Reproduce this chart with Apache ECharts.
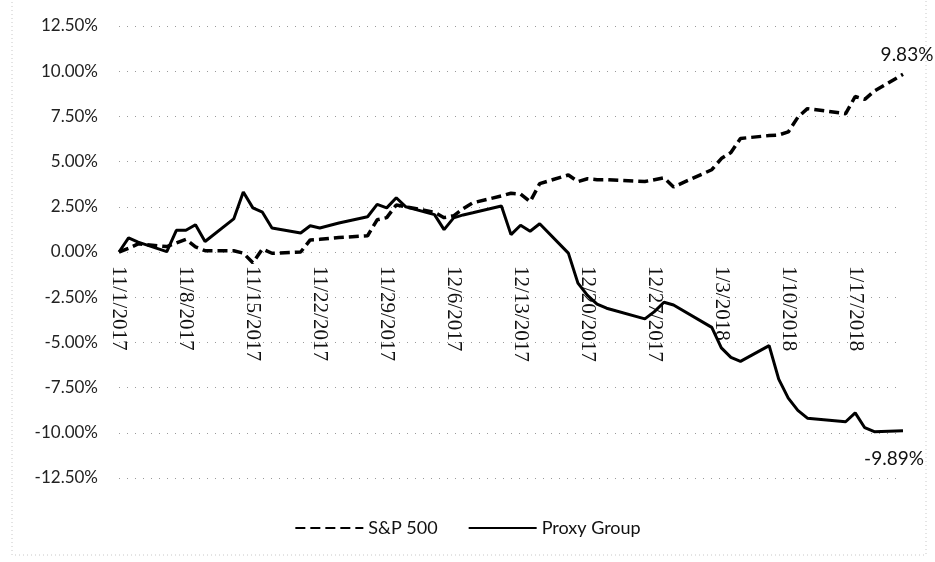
<!DOCTYPE html>
<html><head><meta charset="utf-8">
<script src="https://cdn.jsdelivr.net/npm/echarts@6/dist/echarts.min.js"></script>
<style>html,body{margin:0;padding:0;background:#fff}#c{width:935px;height:562px}</style>
</head><body><div id="c"></div>
<script>
// Trading dates
const dates = [
  '11/1/2017','11/2/2017','11/3/2017','11/6/2017','11/7/2017','11/8/2017','11/9/2017','11/10/2017',
  '11/13/2017','11/14/2017','11/15/2017','11/16/2017','11/17/2017','11/20/2017','11/21/2017','11/22/2017',
  '11/24/2017','11/27/2017','11/28/2017','11/29/2017','11/30/2017','12/1/2017','12/4/2017','12/5/2017',
  '12/6/2017','12/7/2017','12/8/2017','12/11/2017','12/12/2017','12/13/2017','12/14/2017','12/15/2017',
  '12/18/2017','12/19/2017','12/20/2017','12/21/2017','12/22/2017','12/26/2017','12/27/2017','12/28/2017',
  '12/29/2017','1/2/2018','1/3/2018','1/4/2018','1/5/2018','1/8/2018','1/9/2018','1/10/2018',
  '1/11/2018','1/12/2018','1/16/2018','1/17/2018','1/18/2018','1/19/2018','1/22/2018'
];
// Cumulative change, percent
const sp500 = [
  0.00, 0.20, 0.45, 0.30, 0.50, 0.70, 0.28, 0.07,
  0.07, -0.06, -0.60, 0.17, -0.07, 0.00, 0.67, 0.70,
  0.80, 0.90, 1.78, 1.90, 2.60, 2.50, 2.20, 1.90,
  2.00, 2.40, 2.72, 3.10, 3.25, 3.20, 2.78, 3.78,
  4.26, 3.89, 4.05, 4.00, 4.00, 3.90, 4.00, 4.10,
  3.60, 4.55, 5.17, 5.50, 6.28, 6.44, 6.47, 6.64,
  7.45, 7.93, 7.65, 8.60, 8.44, 8.90, 9.83
];
const proxyGroup = [
  0.00, 0.78, 0.55, 0.02, 1.20, 1.20, 1.51, 0.58,
  1.83, 3.32, 2.44, 2.20, 1.33, 1.05, 1.45, 1.33,
  1.60, 1.95, 2.63, 2.44, 3.00, 2.50, 2.07, 1.24,
  1.89, 2.05, 2.17, 2.54, 0.96, 1.48, 1.15, 1.56,
  -0.06, -1.72, -2.40, -2.88, -3.11, -3.70, -3.30, -2.78,
  -2.93, -4.17, -5.30, -5.83, -6.05, -5.18, -7.03, -8.08,
  -8.76, -9.19, -9.39, -8.90, -9.72, -9.94, -9.89
];
const seriesNames = ['S&P 500', 'Proxy Group'];
const xTickLabels = ['11/1/2017','11/8/2017','11/15/2017','11/22/2017','11/29/2017','12/6/2017',
  '12/13/2017','12/20/2017','12/27/2017','1/3/2018','1/10/2018','1/17/2018'];
const yMin = -12.5, yMax = 12.5, yStep = 2.5;

const DAY = 86400000;
function parseDate(s){ const p = s.split('/').map(Number); return Date.UTC(p[2], p[0]-1, p[1]); }
const t0 = parseDate(dates[0]);
const dayIdx = dates.map(s => Math.round((parseDate(s) - t0) / DAY));
const lastDay = dayIdx[dayIdx.length - 1];
const fmtPct = v => v.toFixed(2) + '%';

const GRID_TOP = 26, GRID_BOTTOM = 84, H = 562;
const plotH = H - GRID_TOP - GRID_BOTTOM;
const zeroOffset = -plotH * (0 - yMin) / (yMax - yMin); // move x axis up to the 0% line

function pairs(vals){ return vals.map((v, i) => [dayIdx[i], v]); }
function endMark(vals, labelCfg){
  const i = vals.length - 1;
  return {
    silent: true, symbol: 'circle', symbolSize: 0, animation: false,
    data: [{ coord: [dayIdx[i], vals[i]], value: vals[i] }],
    label: Object.assign({
      show: true, formatter: p => fmtPct(p.value),
      fontFamily: 'Lato', fontSize: 19, color: '#111'
    }, labelCfg)
  };
}

const chart = echarts.init(document.getElementById('c'), null, { renderer: 'canvas' });
chart.setOption({
  animation: false,
  backgroundColor: '#fff',
  grid: { left: 119, right: 32, top: GRID_TOP, bottom: GRID_BOTTOM, containLabel: false, outerBoundsMode: 'none' },
  graphic: [{
    type: 'rect', shape: { x: 12, y: -5, width: 914, height: 560 },
    style: { fill: 'none', stroke: '#c8c8c8', lineWidth: 1, lineDash: [1, 3] }, silent: true, z: -1
  }],
  legend: {
    data: seriesNames, bottom: 20, left: 'center',
    itemWidth: 68, itemHeight: 14, itemGap: 30,
    itemStyle: { opacity: 0 },
    textStyle: { fontFamily: 'Lato', fontSize: 18, color: '#111' }
  },
  xAxis: {
    type: 'value', min: 0, max: lastDay, interval: 7,
    offset: zeroOffset,
    axisLine: { show: false, onZero: false },
    axisTick: { show: false },
    splitLine: { show: false },
    axisLabel: {
      rotate: -90, margin: 14, showMaxLabel: false,
      fontFamily: 'Liberation Serif', fontSize: 21, color: '#111',
      formatter: v => (v % 7 === 0 && xTickLabels[v / 7]) ? xTickLabels[v / 7] : ''
    }
  },
  yAxis: {
    type: 'value', min: yMin, max: yMax, interval: yStep,
    axisLine: { show: false }, axisTick: { show: false },
    splitLine: { show: true, lineStyle: { color: '#9a9a9a', width: 1, type: [1, 7] } },
    axisLabel: { margin: 21, fontFamily: 'Lato', fontSize: 17, color: '#222', formatter: v => fmtPct(v) }
  },
  series: [
    {
      name: seriesNames[0], type: 'line', showSymbol: false, symbol: 'none',
      lineStyle: { color: '#000', width: 3.5, type: [10, 5] }, itemStyle: { color: '#000' },
      data: pairs(sp500), z: 2,
      markPoint: endMark(sp500, { position: 'top', distance: 5, offset: [4, -5] })
    },
    {
      name: seriesNames[1], type: 'line', showSymbol: false, symbol: 'none',
      lineStyle: { color: '#000', width: 3, type: 'solid' }, itemStyle: { color: '#000' },
      data: pairs(proxyGroup), z: 3,
      markPoint: endMark(proxyGroup, { position: 'bottom', distance: 5, offset: [-9, 14] })
    }
  ]
});
</script>
</body></html>
